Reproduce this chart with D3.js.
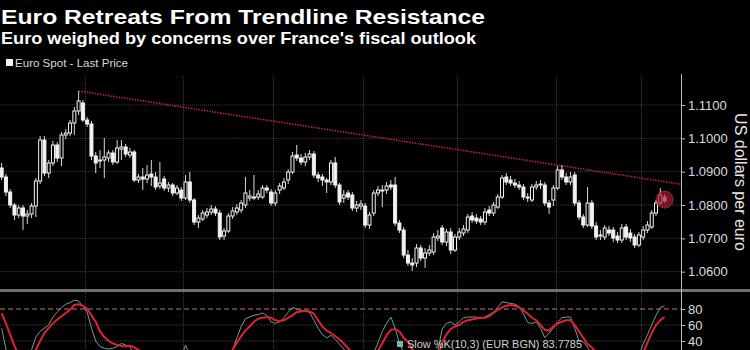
<!DOCTYPE html>
<html>
<head>
<meta charset="utf-8">
<script src="https://cdn.jsdelivr.net/npm/d3@7"></script>
<style>
    body { margin: 0; background: #000; }
    svg { display: block; font-family: 'Liberation Sans', Arial, sans-serif; }
</style>
</head>
<body>
<svg id="euro-chart"></svg>
<script>
// daily candles, first trading day of the chart
const firstDay = '2023-12-04';

const opens = [
    1.0911,1.0884,1.0839,1.0800,1.0770,1.0791,1.0767,1.0773,1.0797,1.0872,1.0995,1.0896,1.0926,
    1.0980,1.0941,1.1010,1.1016,1.1046,1.1082,1.1106,1.1055,1.1043,1.0947,1.0932,1.0935,1.0941,
    1.0956,1.0929,1.0968,1.0974,1.0950,1.0959,1.0875,1.0884,1.0878,1.0893,1.0884,1.0857,1.0878,
    1.0851,1.0860,1.0836,1.0845,1.0821,1.0869,1.0815,1.0749,1.0758,1.0770,1.0779,1.0788,1.0776,
    1.0707,1.0722,1.0767,1.0779,1.0785,1.0800,1.0821,1.0824,1.0824,1.0824,1.0851,1.0839,1.0806,
    1.0845,1.0851,1.0875,1.0899,1.0950,1.0941,1.0929,1.0944,1.0953,1.0890,1.0884,1.0875,1.0869,
    1.0926,1.0860,1.0821,1.0836,1.0830,1.0791,1.0797,1.0797,1.0740,1.0776,1.0836,1.0845,1.0845,
    1.0860,1.0860,1.0746,1.0725,1.0650,1.0626,1.0626,1.0671,1.0641,1.0656,1.0659,1.0701,1.0731,
    1.0689,1.0719,1.0665,1.0704,1.0716,1.0725,1.0767,1.0761,1.0758,1.0749,1.0785,1.0776,1.0794,
    1.0824,1.0884,1.0875,1.0866,1.0860,1.0854,1.0824,1.0815,1.0854,1.0860,1.0860,1.0806,1.0815,
    1.0851,1.0905,1.0884,1.0869,1.0890,1.0806,1.0764,1.0740,1.0806,1.0737,1.0707,1.0704,1.0725,
    1.0725,1.0707,1.0695,1.0734,1.0716,1.0704,1.0680,1.0704,1.0725,1.0734,1.0776,1.0806,1.0824
];
const highs = [
    1.0926,1.0893,1.0848,1.0806,1.0800,1.0800,1.0785,1.0806,1.0881,1.1007,1.1007,1.0935,1.0992,
    1.0989,1.1019,1.1028,1.1055,1.1094,1.1142,1.1115,1.1064,1.1052,1.0959,1.0965,1.1001,1.0965,
    1.0965,1.0995,1.0995,1.0983,1.0971,1.0965,1.0893,1.0911,1.0920,1.0935,1.0899,1.0929,1.0887,
    1.0869,1.0866,1.0860,1.0854,1.0890,1.0899,1.0821,1.0770,1.0785,1.0791,1.0800,1.0797,1.0785,
    1.0731,1.0776,1.0794,1.0803,1.0815,1.0884,1.0845,1.0890,1.0845,1.0860,1.0860,1.0848,1.0845,
    1.0866,1.0881,1.0908,1.0959,1.0980,1.0953,1.0956,1.0965,1.0962,1.0899,1.0893,1.0881,1.0935,
    1.0944,1.0866,1.0845,1.0845,1.0839,1.0812,1.0815,1.0806,1.0779,1.0845,1.0857,1.0860,1.0869,
    1.0875,1.0884,1.0755,1.0734,1.0665,1.0641,1.0683,1.0680,1.0671,1.0680,1.0716,1.0725,1.0740,
    1.0728,1.0731,1.0713,1.0731,1.0740,1.0773,1.0779,1.0773,1.0767,1.0791,1.0797,1.0809,1.0833,
    1.0890,1.0896,1.0887,1.0878,1.0872,1.0863,1.0836,1.0863,1.0872,1.0875,1.0869,1.0815,1.0860,
    1.0917,1.0920,1.0896,1.0899,1.0899,1.0815,1.0773,1.0854,1.0815,1.0749,1.0725,1.0740,1.0737,
    1.0734,1.0719,1.0743,1.0743,1.0728,1.0713,1.0719,1.0737,1.0752,1.0785,1.0815,1.0851,1.0833
];
const lows = [
    1.0875,1.0827,1.0791,1.0755,1.0761,1.0725,1.0743,1.0761,1.0764,1.0863,1.0887,1.0881,1.0917,
    1.0929,1.0917,1.0998,1.1007,1.1010,1.1070,1.1049,1.1034,1.0935,1.0896,1.0911,1.0881,1.0929,
    1.0920,1.0923,1.0935,1.0944,1.0941,1.0869,1.0866,1.0845,1.0866,1.0857,1.0845,1.0848,1.0842,
    1.0839,1.0827,1.0830,1.0812,1.0815,1.0806,1.0740,1.0731,1.0752,1.0761,1.0770,1.0767,1.0695,
    1.0695,1.0716,1.0758,1.0770,1.0776,1.0791,1.0812,1.0815,1.0815,1.0818,1.0836,1.0797,1.0797,
    1.0833,1.0845,1.0863,1.0893,1.0932,1.0920,1.0917,1.0935,1.0881,1.0869,1.0857,1.0836,1.0860,
    1.0851,1.0800,1.0806,1.0815,1.0782,1.0779,1.0785,1.0731,1.0728,1.0767,1.0827,1.0794,1.0833,
    1.0845,1.0737,1.0716,1.0641,1.0617,1.0602,1.0614,1.0632,1.0611,1.0647,1.0650,1.0692,1.0680,
    1.0677,1.0653,1.0659,1.0695,1.0707,1.0716,1.0746,1.0743,1.0740,1.0740,1.0767,1.0767,1.0788,
    1.0818,1.0860,1.0857,1.0851,1.0845,1.0815,1.0809,1.0809,1.0845,1.0848,1.0797,1.0773,1.0797,
    1.0845,1.0875,1.0860,1.0860,1.0797,1.0755,1.0731,1.0734,1.0728,1.0695,1.0695,1.0695,1.0707,
    1.0689,1.0686,1.0686,1.0695,1.0689,1.0671,1.0674,1.0695,1.0716,1.0728,1.0767,1.0800,1.0806
];
const closes = [
    1.0884,1.0839,1.0800,1.0770,1.0791,1.0767,1.0773,1.0797,1.0872,1.0995,1.0896,1.0926,1.0980,
    1.0941,1.1010,1.1016,1.1046,1.1082,1.1112,1.1055,1.1043,1.0947,1.0926,1.0935,1.0944,1.0956,
    1.0929,1.0971,1.0974,1.0953,1.0959,1.0875,1.0884,1.0878,1.0890,1.0884,1.0854,1.0866,1.0851,
    1.0860,1.0836,1.0851,1.0821,1.0869,1.0815,1.0749,1.0761,1.0776,1.0779,1.0788,1.0776,1.0704,
    1.0722,1.0767,1.0782,1.0791,1.0806,1.0836,1.0827,1.0821,1.0833,1.0851,1.0845,1.0806,1.0836,
    1.0857,1.0869,1.0899,1.0947,1.0941,1.0929,1.0944,1.0953,1.0890,1.0881,1.0875,1.0869,1.0926,
    1.0860,1.0809,1.0830,1.0824,1.0791,1.0800,1.0803,1.0740,1.0770,1.0836,1.0845,1.0842,1.0857,
    1.0854,1.0746,1.0725,1.0650,1.0626,1.0620,1.0671,1.0641,1.0656,1.0665,1.0704,1.0707,1.0689,
    1.0719,1.0665,1.0704,1.0719,1.0728,1.0764,1.0755,1.0752,1.0749,1.0779,1.0776,1.0800,1.0824,
    1.0881,1.0869,1.0866,1.0860,1.0854,1.0824,1.0821,1.0854,1.0860,1.0863,1.0806,1.0794,1.0851,
    1.0905,1.0884,1.0869,1.0884,1.0806,1.0764,1.0740,1.0806,1.0737,1.0704,1.0710,1.0731,1.0716,
    1.0701,1.0695,1.0731,1.0704,1.0701,1.0680,1.0710,1.0725,1.0740,1.0776,1.0806,1.0830,1.0812
];

// stochastic oscillator, lower panel
const slowK = [
    56,30,18,10,12,8,10,29,45,52,56,60,70,
    76,82,86,88,91,90,84,76,56,40,33,31,30,
    31,33,37,35,33,22,15,12,14,12,8,10,12,
    10,8,12,20,35,22,8,6,10,14,16,15,5,
    8,18,29,44,58,68,70,72,73,75,72,64,62,
    64,69,76,82,80,78,77,76,66,56,48,44,47,
    42,36,30,24,18,16,18,15,14,25,38,52,62,
    70,56,37,26,12,6,8,7,10,12,18,28,55,
    62,64,60,64,69,70,70,70,68,70,73,76,82,
    89,88,87,86,83,74,63,62,64,56,44,50,56,
    64,69,70,70,56,40,39,32,22,12,8,10,12,
    8,6,10,12,10,12,22,36,48,60,72,82,83.7785
];
const slowD = [
    75,62,48,34,22,14,12,20,29,40,50,56,62,
    67,71,75,79,85,86,84,80,72,64,52,45,40,
    37,35,34,33,34,32,29,25,18,14,12,11,10,
    10,10,10,14,22,24,20,12,8,10,13,15,12,
    10,18,29,38,46,53,58,64,68,69,70,69,66,
    65,66,69,72,76,77,78,77,74,66,58,53,50,
    46,42,37,31,25,20,18,17,16,18,28,37,47,
    54,55,52,44,39,30,18,10,9,10,13,20,38,
    48,55,58,60,64,66,67,68,69,69,71,75,79,
    82,84,85,84,82,78,74,69,66,60,54,53,58,
    62,64,66,66,60,52,44,36,32,26,20,14,10,
    9,8,8,9,10,11,16,25,38,50,60,66,70
];

const priceTicks = [1.06, 1.07, 1.08, 1.09, 1.10, 1.11];
const stochTicks = [40, 60, 80];
const stochGrid = [20, 40, 60];

// resistance line: from the December high to the latest session
const trendStart = { date: '2023-12-28', value: 1.1142 };
const trendEnd = { date: '2024-07-08', value: 1.0870 };

const W = 750, H = 350;
const plotTop = 74, plotRight = 681, panelTop = 289;

const svg = d3.select('svg#euro-chart')
    .attr('width', W)
    .attr('height', H);

svg.append('rect')
    .attr('width', W)
    .attr('height', H)
    .attr('fill', '#000');

// build weekday dates
const parseDate = d3.utcParse('%Y-%m-%d');
const days = [];
let cur = parseDate(firstDay);
while (days.length < closes.length) {
    const wd = cur.getUTCDay();
    if (wd !== 0 && wd !== 6) days.push(cur);
    cur = d3.utcDay.offset(cur, 1);
}
const fmt = d3.utcFormat('%Y-%m-%d');
const keys = days.map(fmt);

const candles = keys.map((k, i) => ({
    key: k, open: opens[i], high: highs[i], low: lows[i], close: closes[i]
}));

const xScale = d3.scaleBand()
    .domain(keys)
    .range([-0.5, 666.7])
    .padding(0);
const cx = (k) => xScale(k) + xScale.bandwidth() / 2;

const yScale = d3.scaleLinear()
    .domain([1.06, 1.11])
    .range([271.7, 105]);

const sScale = d3.scaleLinear()
    .domain([0, 100])
    .range([373, 293]);

const defs = svg.append('defs');
defs.append('clipPath').attr('id', 'clip-main')
    .append('rect').attr('x', 0).attr('y', plotTop).attr('width', plotRight).attr('height', panelTop - plotTop);
defs.append('clipPath').attr('id', 'clip-stoch')
    .append('rect').attr('x', 0).attr('y', panelTop + 3).attr('width', plotRight).attr('height', H - panelTop);

// gridlines
const grid = svg.append('g');
grid.selectAll('.hgrid')
    .data(priceTicks)
    .enter()
    .append('line')
    .attr('x1', 0)
    .attr('x2', plotRight)
    .attr('y1', (d) => yScale(d))
    .attr('y2', (d) => yScale(d))
    .attr('stroke', '#3c3c3c')
    .attr('stroke-dasharray', '1,1');

grid.selectAll('.sgrid')
    .data(stochGrid)
    .enter()
    .append('line')
    .attr('x1', 0)
    .attr('x2', plotRight)
    .attr('y1', (d) => sScale(d))
    .attr('y2', (d) => sScale(d))
    .attr('stroke', '#3c3c3c')
    .attr('stroke-dasharray', '1,1');

const monthStarts = keys.filter((k, i) => i > 0 && k.slice(5, 7) !== keys[i - 1].slice(5, 7));
grid.selectAll('.vgrid')
    .data(monthStarts)
    .enter()
    .append('line')
    .attr('x1', (k) => Math.round(xScale(k)) + 0.5)
    .attr('x2', (k) => Math.round(xScale(k)) + 0.5)
    .attr('y1', plotTop + 2)
    .attr('y2', H)
    .attr('stroke', '#3a3a3a')
    .attr('stroke-dasharray', '1,1');

// overbought line
svg.append('line')
    .attr('x1', 0)
    .attr('x2', plotRight)
    .attr('y1', sScale(80))
    .attr('y2', sScale(80))
    .attr('stroke', '#c07a70')
    .attr('stroke-dasharray', '5,3');

// trend line
const tx0 = cx(trendStart.date), tx1 = cx(trendEnd.date);
const ty0 = yScale(trendStart.value), ty1 = yScale(trendEnd.value);
const slope = (ty1 - ty0) / (tx1 - tx0);
svg.append('line')
    .attr('x1', tx0)
    .attr('y1', ty0)
    .attr('x2', plotRight)
    .attr('y2', ty0 + slope * (plotRight - tx0))
    .attr('stroke', '#b8223f')
    .attr('stroke-width', 1.6)
    .attr('stroke-dasharray', '1.5,1.2');

// candles
const chart = svg.append('g').attr('clip-path', 'url(#clip-main)');
const bodyW = 3;

const candleGroups = chart.selectAll()
    .data(candles)
    .enter()
    .append('g');

candleGroups.append('line')
    .attr('x1', (d) => cx(d.key))
    .attr('x2', (d) => cx(d.key))
    .attr('y1', (d) => yScale(d.high))
    .attr('y2', (d) => yScale(d.low))
    .attr('stroke', '#d8d8d8')
    .attr('stroke-width', 1);

candleGroups.append('rect')
    .attr('x', (d) => cx(d.key) - bodyW / 2)
    .attr('y', (d) => yScale(Math.max(d.open, d.close)))
    .attr('width', bodyW)
    .attr('height', (d) => Math.max(1, Math.abs(yScale(d.open) - yScale(d.close))))
    .attr('fill', (d) => d.close >= d.open ? '#000' : '#f2f2f2')
    .attr('stroke', '#f2f2f2')
    .attr('stroke-width', 1);

// marker on the last session
const last = candles[candles.length - 1];
svg.append('circle')
    .attr('cx', cx(last.key))
    .attr('cy', yScale((last.high + last.low) / 2) + 1)
    .attr('r', 8.5)
    .attr('fill', '#a51d33')
    .attr('fill-opacity', 0.7)
    .attr('stroke', '#d64a60')
    .attr('stroke-dasharray', '1.5,1.5');

// stochastic lines
const stoch = svg.append('g').attr('clip-path', 'url(#clip-stoch)');
const lineK = d3.line()
    .x((d, i) => cx(keys[i]))
    .y((d) => sScale(d));

stoch.append('path')
    .datum(slowK)
    .attr('d', lineK)
    .attr('fill', 'none')
    .attr('stroke', '#6f9d9d')
    .attr('stroke-width', 1);

stoch.append('path')
    .datum(slowD)
    .attr('d', lineK)
    .attr('fill', 'none')
    .attr('stroke', '#e0212f')
    .attr('stroke-width', 2);

// panel separator
svg.append('rect')
    .attr('x', 0)
    .attr('y', panelTop)
    .attr('width', W)
    .attr('height', 3)
    .attr('fill', '#6f6f6f');

// axes
const axisG = svg.append('g')
    .attr('transform', `translate(${plotRight}, 0)`)
    .call(d3.axisRight(yScale)
        .tickValues(priceTicks)
        .tickFormat(d3.format('.4f'))
        .tickSize(4)
        .tickPadding(3));

const stochAxis = svg.append('g')
    .attr('transform', `translate(${plotRight}, 0)`)
    .call(d3.axisRight(sScale)
        .tickValues(stochTicks)
        .tickSize(4)
        .tickPadding(3));

[axisG, stochAxis].forEach((g) => {
    g.select('.domain').remove();
    g.selectAll('line').attr('stroke', '#bdbdbd');
    g.selectAll('text')
        .attr('fill', '#dcdcdc')
        .style('font-size', '13px')
        .style('font-family', "'Liberation Sans', Arial, sans-serif");
});

svg.append('line')
    .attr('x1', plotRight + 0.5)
    .attr('x2', plotRight + 0.5)
    .attr('y1', plotTop)
    .attr('y2', H)
    .attr('stroke', '#bdbdbd');

svg.append('text')
    .attr('transform', 'translate(735, 182) rotate(90)')
    .attr('text-anchor', 'middle')
    .attr('fill', '#e6e6e6')
    .style('font-size', '16px')
    .text('US dollars per euro');

// titles and legends
svg.append('text')
    .attr('x', 1)
    .attr('y', 24)
    .attr('fill', '#fff')
    .attr('textLength', 484)
    .attr('lengthAdjust', 'spacingAndGlyphs')
    .style('font-size', '21px')
    .style('font-weight', 'bold')
    .text('Euro Retreats From Trendline Resistance');

svg.append('text')
    .attr('x', 1)
    .attr('y', 44)
    .attr('fill', '#fff')
    .attr('textLength', 475)
    .attr('lengthAdjust', 'spacingAndGlyphs')
    .style('font-size', '17px')
    .style('font-weight', 'bold')
    .text("Euro weighed by concerns over France's fiscal outlook");

svg.append('rect')
    .attr('x', 6)
    .attr('y', 59)
    .attr('width', 7)
    .attr('height', 7)
    .attr('fill', '#f2f2f2');

svg.append('text')
    .attr('x', 15)
    .attr('y', 67)
    .attr('fill', '#d8d8d8')
    .attr('textLength', 113)
    .attr('lengthAdjust', 'spacingAndGlyphs')
    .style('font-size', '11px')
    .text('Euro Spot - Last Price');

svg.append('rect')
    .attr('x', 397)
    .attr('y', 341)
    .attr('width', 6)
    .attr('height', 6)
    .attr('fill', '#7fb0b0');

svg.append('text')
    .attr('x', 407)
    .attr('y', 348)
    .attr('fill', '#d0d0d0')
    .attr('textLength', 175)
    .attr('lengthAdjust', 'spacingAndGlyphs')
    .style('font-size', '11px')
    .text('Slow %K(10,3) (EUR BGN) ' + slowK[slowK.length - 1]);
</script>
</body>
</html>
